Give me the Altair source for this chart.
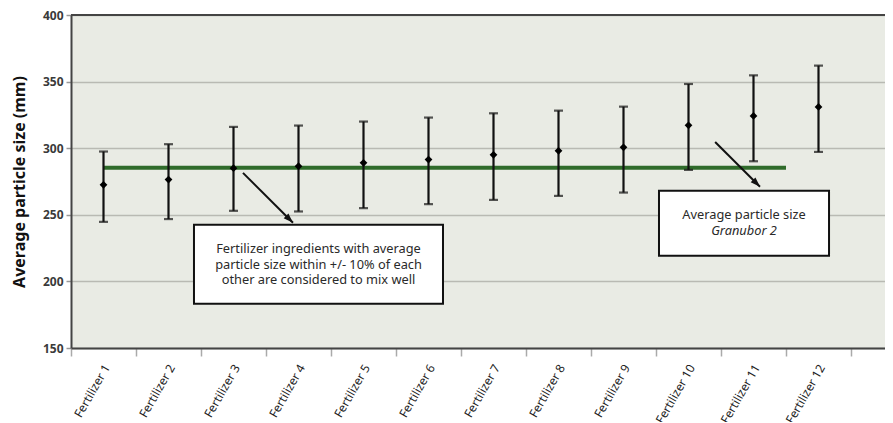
import altair as alt
import pandas as pd

# ---- data ----
names = ["Fertilizer 1", "Fertilizer 2", "Fertilizer 3", "Fertilizer 4", "Fertilizer 5",
         "Fertilizer 6", "Fertilizer 7", "Fertilizer 8", "Fertilizer 9", "Fertilizer 10",
         "Fertilizer 11", "Fertilizer 12"]
means = [272.5, 276.5, 285, 286.5, 289, 291.5, 295, 298, 300.7, 317.2, 324.2, 331]
upper = [297.5, 303, 316, 317, 320, 323, 326.2, 328.2, 331.2, 348.2, 354.7, 362]
lower = [244.7, 246.8, 253, 252.5, 255, 258, 261.2, 264.2, 266.7, 283.7, 290.2, 297.2]

granubor_avg = 285.3
granubor_start = "Fertilizer 1"
granubor_end = "Fertilizer 12"

# annotation positions (x in band units from the plot's left edge)
arrow_x0 = [2.646, 9.91]
arrow_x1 = [3.415, 10.6]
arrow_y0 = [281.5, 304.7]
arrow_y1 = [244.0, 271.0]

box_x0 = [1.892, 9.046]
box_x1 = [5.723, 11.662]
box_y0 = [242.5, 268.0]
box_y1 = [183.2, 219.2]

note_lines = ["Fertilizer ingredients with average",
              "particle size within +/- 10% of each",
              "other are considered to mix well",
              "Average particle size"]
note_x = [3.808, 3.808, 3.808, 10.354]
note_y = [224.5, 212.5, 201.2, 250.0]
italic_lines = ["Granubor 2"]
italic_x = [10.354]
italic_y = [238.0]

FONT = "Noto Sans"
W, H = 814, 333
N_BANDS = W / 65.0

df = pd.DataFrame({"name": names, "mean": means, "upper": upper, "lower": lower})
line_df = pd.DataFrame({"start": [granubor_start], "end": [granubor_end], "v": [granubor_avg]})
arrow_df = pd.DataFrame({"x0": arrow_x0, "x1": arrow_x1, "y0": arrow_y0, "y1": arrow_y1})
box_df = pd.DataFrame({"x0": box_x0, "x1": box_x1, "y0": box_y0, "y1": box_y1})
note_df = pd.DataFrame({"t": note_lines, "x": note_x, "y": note_y})
ital_df = pd.DataFrame({"t": italic_lines, "x": italic_x, "y": italic_y})
top_df = pd.DataFrame({"v": [400]})

yscale = alt.Scale(domain=[150, 400], nice=False, zero=False)
yaxis = alt.Axis(title="Average particle size (mm)", values=[150, 200, 250, 300, 350, 400],
                 grid=True, gridColor="#b9bab3", gridWidth=1.6,
                 domainColor="#444444", domainWidth=2,
                 tickColor="#999999", tickSize=5, tickWidth=1.5,
                 labelFont=FONT, labelFontSize=12, labelFontWeight="bold", labelColor="#3a3a3a",
                 labelPadding=3,
                 titleFont=FONT, titleFontSize=16, titleFontWeight="bold", titleColor="#111111",
                 titlePadding=15)

xscale = alt.Scale(type="band", domain=names, paddingInner=0, paddingOuter=(N_BANDS - 12) / 2, align=0)
xaxis = alt.Axis(title=None, grid=False, tickBand="extent",
                 domainColor="#444444", domainWidth=2,
                 tickColor="#aaaaaa", tickSize=8, tickWidth=1.5,
                 labelAngle=-60, labelAlign="right", labelBaseline="middle",
                 labelFont=FONT, labelFontSize=12, labelColor="#222222", labelPadding=9,
                 labelOffset=3)


def yq(field):
    return alt.Y(field, type="quantitative", scale=yscale, axis=yaxis)


def xb(field, band=0.5):
    return alt.X(field, type="nominal", scale=xscale, axis=xaxis, bandPosition=band)


green = alt.Chart(line_df).mark_rule(color="#2f6b2a", strokeWidth=4).encode(
    x=xb("start"), x2=alt.X2("end", bandPosition=0), y=yq("v")
)
bars = alt.Chart(df).mark_rule(color="#111111", strokeWidth=2.2).encode(
    x=xb("name"), y=yq("lower"), y2="upper"
)
cap_top = alt.Chart(df).mark_tick(color="#111111", thickness=2.2, size=9, orient="horizontal").encode(
    x=xb("name"), y=yq("upper")
)
cap_bot = alt.Chart(df).mark_tick(color="#111111", thickness=2.2, size=9, orient="horizontal").encode(
    x=xb("name"), y=yq("lower")
)
pts = alt.Chart(df).mark_point(shape="diamond", filled=True, color="#000000", size=60, opacity=1).encode(
    x=xb("name"), y=yq("mean")
)
main = alt.layer(green, bars, cap_top, cap_bot, pts)

ax_scale = alt.Scale(domain=[0, N_BANDS], nice=False, zero=False)


def xa(field):
    return alt.X(field, type="quantitative", scale=ax_scale, axis=None)


top_rule = alt.Chart(top_df).mark_rule(color="#444444", strokeWidth=2).encode(y=yq("v"))
arrows = alt.Chart(arrow_df).mark_rule(color="#111111", strokeWidth=2).encode(
    x=xa("x0"), x2="x1", y=yq("y0"), y2="y1"
)
heads = alt.Chart(arrow_df).mark_point(
    shape="M0,0L-0.55,1.6L0.55,1.6Z", filled=True, color="#111111", size=150, angle=135, opacity=1
).encode(x=xa("x1"), y=yq("y1"))
boxes = alt.Chart(box_df).mark_rect(fill="white", stroke="#111111", strokeWidth=2).encode(
    x=xa("x0"), x2="x1", y=yq("y0"), y2="y1"
)
notes = alt.Chart(note_df).mark_text(font=FONT, fontSize=12.8, color="#2a2a2a", align="center",
                                     baseline="middle").encode(
    x=xa("x"), y=yq("y"), text="t:N"
)
ital = alt.Chart(ital_df).mark_text(font=FONT, fontSize=12.8, color="#2a2a2a", align="center",
                                    baseline="middle", fontStyle="italic").encode(
    x=xa("x"), y=yq("y"), text="t:N"
)
annot = alt.layer(top_rule, arrows, heads, boxes, notes, ital)

chart = alt.layer(main, annot).resolve_scale(x="independent").properties(
    width=W, height=H,
    autosize=alt.AutoSizeParams(type="none"),
    padding={"left": 63, "top": 7, "right": 0, "bottom": 74},
    background="white",
).configure_view(fill="#e9ebe4", stroke=None)

chart.save("out.html", embed_options={"renderer": "svg", "actions": False})
